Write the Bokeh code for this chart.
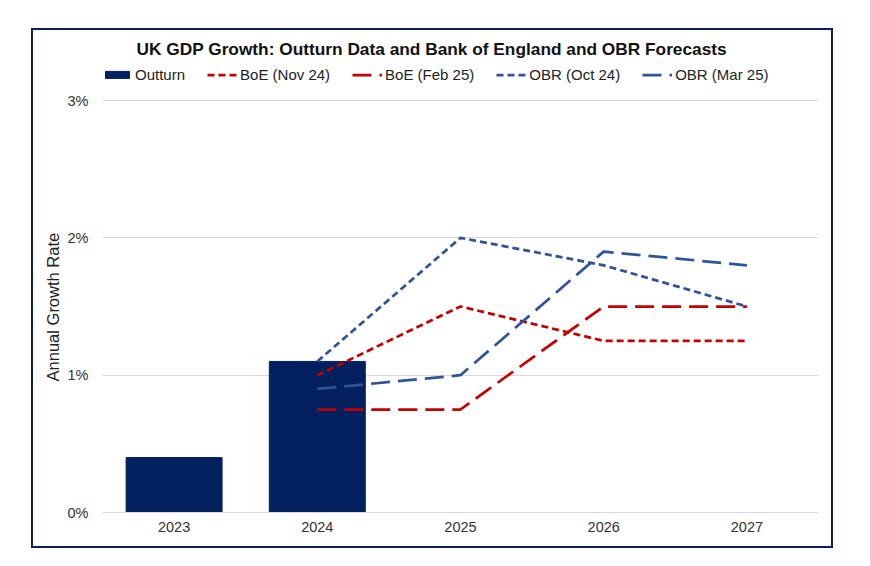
from bokeh.plotting import figure
from bokeh.models import (FactorRange, FixedTicker, PrintfTickFormatter, Legend, LegendItem)
from bokeh.embed import file_html
from bokeh.resources import INLINE

years = ["2023", "2024", "2025", "2026", "2027"]
outturn_years = ["2023", "2024"]
outturn = [0.4, 1.1]
fc_years = ["2024", "2025", "2026", "2027"]
boe_nov24 = [1.0, 1.5, 1.25, 1.25]
boe_feb25 = [0.75, 0.75, 1.5, 1.5]
obr_oct24 = [1.1, 2.0, 1.8, 1.5]
obr_mar25 = [0.9, 1.0, 1.9, 1.8]
y_ticks = [0, 1, 2, 3]

NAVY = "#03205E"
RED = "#C00000"
BLUE = "#2F5597"
FONT = "Liberation Sans"
SHORT = "7 4"
LONG = "19 8"

# frame extends above the 3% line to hold the legend; grid/ticks stop at 3%
p = figure(x_range=FactorRange(factors=years), y_range=(0, 3.2913),
           width=802, height=520, output_backend="svg", toolbar_location=None,
           min_border_left=69, min_border_right=17, min_border_top=30, min_border_bottom=38)
p.styles = {"border": "2px solid #0A1F5C"}
p.margin = (28, 0, 0, 31)

p.title.text = "UK GDP Growth: Outturn Data and Bank of England and OBR Forecasts"
p.title.align = "left"
p.title.offset = 34
p.title.standoff = 4
p.title.text_font = FONT
p.title.text_font_size = "17.3px"
p.title.text_font_style = "bold"
p.title.text_color = "#111111"

r_bar = p.vbar(x=outturn_years, top=outturn, width=0.67, color=NAVY)
r1 = p.line(fc_years, boe_nov24, color=RED, line_width=2.75, line_dash=SHORT)
r2 = p.line(fc_years, boe_feb25, color=RED, line_width=2.75, line_dash=LONG)
r3 = p.line(fc_years, obr_oct24, color=BLUE, line_width=2.75, line_dash=SHORT)
r4 = p.line(fc_years, obr_mar25, color=BLUE, line_width=2.75, line_dash=LONG)

legend = Legend(items=[
    LegendItem(label="Outturn", renderers=[r_bar]),
    LegendItem(label="BoE (Nov 24)", renderers=[r1]),
    LegendItem(label="BoE (Feb 25)", renderers=[r2]),
    LegendItem(label="OBR (Oct 24)", renderers=[r3]),
    LegendItem(label="OBR (Mar 25)", renderers=[r4]),
], orientation="horizontal", location=(0, 429))
legend.label_text_font = FONT
legend.label_text_font_size = "15px"
legend.label_text_color = "#222222"
legend.glyph_width = 30
legend.glyph_height = 9
legend.spacing = 22
legend.label_standoff = 3
legend.border_line_color = None
legend.background_fill_alpha = 0
legend.padding = 0
legend.margin = 0
p.add_layout(legend)

p.yaxis.ticker = FixedTicker(ticks=y_ticks)
p.yaxis.bounds = (0, 3)
p.yaxis.formatter = PrintfTickFormatter(format="%d%%")
p.yaxis.axis_line_color = None
p.yaxis.major_tick_line_color = None
p.yaxis.minor_tick_line_color = None
p.yaxis.major_tick_out = 0
p.yaxis.major_tick_in = 0
p.yaxis.major_label_text_font = FONT
p.yaxis.major_label_text_font_size = "14.5px"
p.yaxis.major_label_text_color = "#333333"
p.yaxis.major_label_standoff = 14
# trailing no-break spaces centre the visible words on the 0-3% span
p.yaxis.axis_label = "Annual Growth Rate" + "\u00a0" * 9
p.yaxis.axis_label_text_font = FONT
p.yaxis.axis_label_text_font_style = "normal"
p.yaxis.axis_label_text_font_size = "16.5px"
p.yaxis.axis_label_text_color = "#222222"
p.yaxis.axis_label_standoff = 3

p.xaxis.axis_line_color = "#D9D9D9"
p.xaxis.major_tick_line_color = None
p.xaxis.minor_tick_line_color = None
p.xaxis.major_tick_out = 0
p.xaxis.major_tick_in = 0
p.xaxis.major_label_text_font = FONT
p.xaxis.major_label_text_font_size = "14.5px"
p.xaxis.major_label_text_color = "#333333"
p.xaxis.major_label_standoff = 9

p.xgrid.grid_line_color = None
p.ygrid.grid_line_color = "#D9D9D9"
p.ygrid.ticker = FixedTicker(ticks=y_ticks)
p.outline_line_color = None

open("out.html", "w").write(file_html(p, INLINE))
